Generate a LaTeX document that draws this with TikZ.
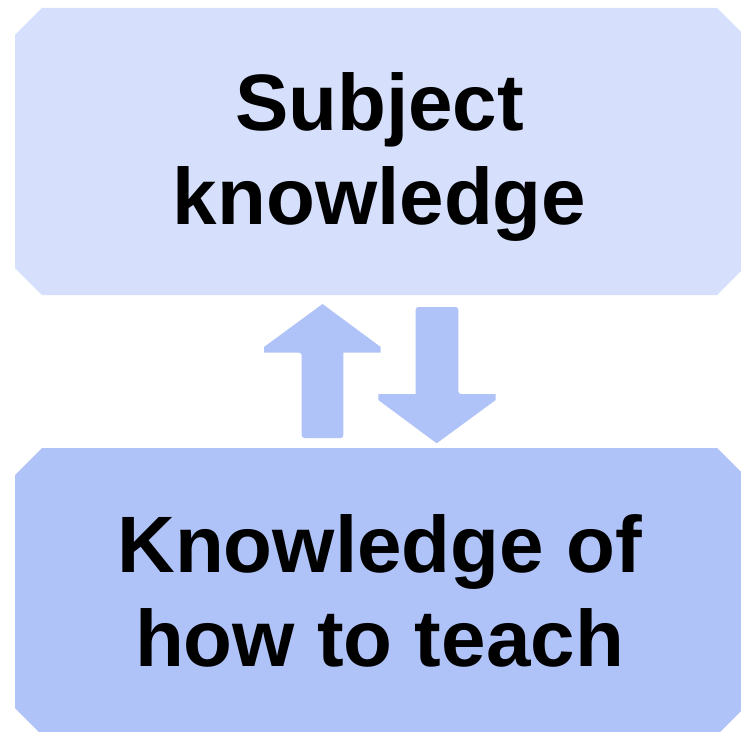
\documentclass[tikz,border=0pt]{standalone}
\usepackage{fontspec}
\setmainfont{Liberation Sans}

\definecolor{paleblue}{RGB}{214,224,252}
\definecolor{midblue}{RGB}{176,195,248}

\begin{document}
\begin{tikzpicture}[x=0.75pt,y=-0.75pt]
	\tikzstyle{caption} = [align=center,inner sep=0pt,font=\fontsize{60}{71}\selectfont\bfseries]
	\tikzstyle{blockarrow} = [fill=midblue]
	\useasboundingbox (0,0) rectangle (741,731);
	% the two panels, corners cut off
	\foreach \t/\col in {8/paleblue,448/midblue}
		\fill[\col] (15,\t+27) -- (42,\t) -- (717,\t) -- (744,\t+27) -- (744,\t+260)
			-- (717,\t+287) -- (42,\t+287) -- (15,\t+260) -- cycle;
	\node[caption] (subject) at (379.5,156.9) {Subject\\knowledge};
	\node[caption] (teach) at (379.5,591) {Knowledge of\\how to teach};
	% up arrow
	\path[blockarrow] (322.5,304) -- (380.7,347) -- (380.7,352.7) -- (343.3,352.7)
		[rounded corners=2pt] -- (343.3,438) -- (301.7,438) -- (301.7,352.7)
		[sharp corners] -- (264,352.7) -- (264,347) -- cycle;
	% down arrow
	\path[blockarrow] (436.7,443.3) -- (378.3,400) -- (378.3,394) -- (415.7,394)
		[rounded corners=2pt] -- (415.7,307) -- (458.3,307) -- (458.3,394)
		[sharp corners] -- (495.7,394) -- (495.7,400) -- cycle;
\end{tikzpicture}
\end{document}
